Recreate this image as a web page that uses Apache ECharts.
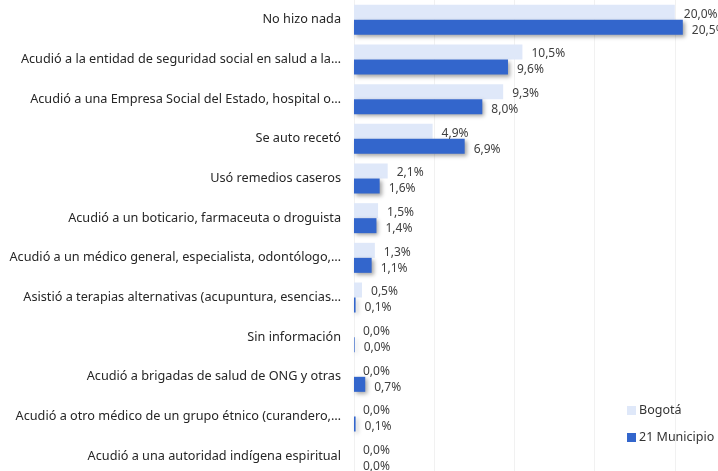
<!DOCTYPE html>
<html>
<head>
<meta charset="utf-8">
<script src="https://cdn.jsdelivr.net/npm/echarts@6/dist/echarts.min.js"></script>
<style>
html,body{margin:0;padding:0;background:#fff;}
#chart{width:718px;height:471px;}
</style>
</head>
<body>
<div id="chart"></div>
<script>
var categories = [
  "No hizo nada",
  "Acudió a la entidad de seguridad social en salud a la…",
  "Acudió a una Empresa Social del Estado, hospital o…",
  "Se auto recetó",
  "Usó remedios caseros",
  "Acudió a un boticario, farmaceuta o droguista",
  "Acudió a un médico general, especialista, odontólogo,…",
  "Asistió a terapias alternativas (acupuntura, esencias…",
  "Sin información",
  "Acudió a brigadas de salud de ONG y otras",
  "Acudió a otro médico de un grupo étnico (curandero,…",
  "Acudió a una autoridad indígena espiritual"
];
var bogota = [20.0, 10.5, 9.3, 4.9, 2.1, 1.5, 1.3, 0.5, 0.0, 0.0, 0.0, 0.0];
var municipios = [20.5, 9.6, 8.0, 6.9, 1.6, 1.4, 1.1, 0.1, 0.04, 0.7, 0.1, 0.0];
var seriesNames = ["Bogotá", "21 Municipio"];

var FONT = "'Noto Sans', 'DejaVu Sans', sans-serif";
function fmt(p){ return p.value.toFixed(1).replace('.', ',') + '%'; }

var chart = echarts.init(document.getElementById('chart'), null, {renderer:'canvas'});
chart.setOption({
  animation: false,
  backgroundColor: '#ffffff',
  textStyle: {fontFamily: FONT},
  grid: {left: 354, right: -37, top: 0, bottom: -5, containLabel: false, outerBoundsMode: 'none'},
  legend: {
    orient: 'vertical',
    left: 627, top: 404,
    padding: 0,
    itemWidth: 9, itemHeight: 9, itemGap: 14,
    icon: 'rect',
    textStyle: {fontFamily: FONT, fontSize: 12.5, color: '#333333', padding: [0,0,0,-2]},
    data: seriesNames
  },
  xAxis: {
    type: 'value', min: 0, max: 25, interval: 5,
    axisLine: {show: false}, axisTick: {show: false}, axisLabel: {show: false},
    splitLine: {show: true, lineStyle: {color: '#f1f1f1', width: 1}}
  },
  yAxis: {
    type: 'category', inverse: true, data: categories,
    axisLine: {show: false}, axisTick: {show: false},
    axisLabel: {margin: 13, fontFamily: FONT, fontSize: 12.7, color: '#262626'},
    splitLine: {show: false}
  },
  series: [
    {
      name: seriesNames[0], type: 'bar', data: bogota,
      barWidth: 15, barGap: 0,
      itemStyle: {color: '#dfe8f9'},
      label: {show: true, position: 'right', distance: 9, offset: [0, 2], formatter: fmt,
              fontFamily: FONT, fontSize: 12, color: '#404040'}
    },
    {
      name: seriesNames[1], type: 'bar', data: municipios,
      barWidth: 15, barGap: 0,
      itemStyle: {color: '#3366cc', shadowColor: 'rgba(0,0,0,0.35)', shadowBlur: 4, shadowOffsetX: 2, shadowOffsetY: 2},
      label: {show: true, position: 'right', distance: 9, offset: [0, 3], formatter: fmt,
              fontFamily: FONT, fontSize: 12, color: '#404040'}
    }
  ]
});
</script>
</body>
</html>
